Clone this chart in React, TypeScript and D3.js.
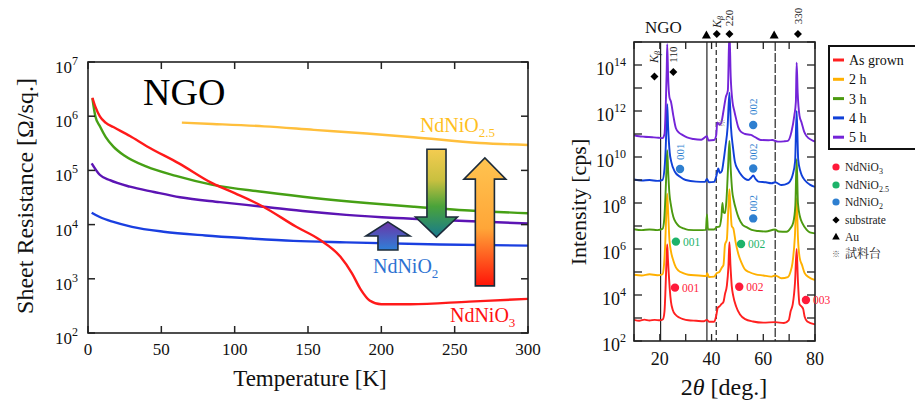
import React from 'react';
import * as d3 from 'd3';

// ---------- Left panel: sheet resistance vs temperature ----------
// [T (K), R (Ohm/sq)]
const RT_ASGROWN: [number, number][] = [[3,2.19e6],[5,1.5e6],[8.2,9.8e5],[12,7.6e5],[17.3,6.3e5],[28.6,4.3e5],[40,2.8e5],[62,1.35e5],[85,5.75e4],[100,3.8e4],[119.5,2.14e4],[142,9.1e3],[158,5.25e3],[172,2.57e3],[180,1.26e3],[186,631],[192,398],[200,339],[220,339],[260,380],[300,427]];
const RT_2H: [number, number][] = [[64,7.6e5],[85,7.2e5],[120,6.5e5],[154,5.6e5],[190,4.8e5],[222,4.1e5],[267,3.2e5],[300,2.95e5]];
const RT_3H: [number, number][] = [[3,2.14e6],[5,1.0e6],[8.2,6.46e5],[12,4.17e5],[17.3,2.75e5],[25,1.86e5],[40,1.17e5],[60,7.9e4],[85,5.4e4],[120,4.0e4],[154,3.1e4],[190,2.5e4],[222,2.14e4],[260,1.82e4],[300,1.62e4]];
const RT_4H: [number, number][] = [[2.5,1.66e4],[8,1.38e4],[17.3,1.12e4],[30,9.1e3],[51.4,7.4e3],[80,6.3e3],[108,5.6e3],[140,5.0e3],[176,4.7e3],[240,4.3e3],[300,4.1e3]];
const RT_5H: [number, number][] = [[2.5,1.35e5],[8,8.3e4],[15,6.6e4],[28.6,5.0e4],[45,4.0e4],[62.7,3.2e4],[90,2.6e4],[119.5,2.14e4],[150,1.74e4],[176,1.51e4],[210,1.32e4],[244.5,1.2e4],[300,1.05e4]];

const T_TICKS = [0, 50, 100, 150, 200, 250, 300];
const R_TICK_EXP = [2, 3, 4, 5, 6, 7];

// ---------- Right panel: XRD ----------
// [2theta (deg), log10 intensity (cps)]
const XRD_ASGROWN: [number, number][] = [[10,2.92],[12,2.88],[14,2.93],[16,2.89],[18,2.92],[20,2.9],[21.2,2.95],[21.8,3.3],[22.2,4.3],[22.6,5.6],[22.85,6.2],[23.1,5.6],[23.4,5.0],[23.8,4.3],[24.3,3.7],[25,3.35],[26,3.15],[27.5,3.02],[29,2.95],[31,2.9],[34,2.88],[37,2.86],[38.2,2.92],[39,2.84],[41,2.84],[41.8,3.1],[42.4,3.45],[43,3.5],[43.8,3.6],[44.6,3.7],[45.2,4.05],[45.9,4.4],[46.5,5.2],[46.9,6.3],[47.3,5.3],[47.8,4.4],[48.4,3.95],[49.5,3.5],[51,3.15],[53,2.95],[56,2.85],[60,2.8],[64.6,2.82],[68,2.78],[69.8,2.9],[70.6,3.3],[71.4,3.6],[72.3,4.6],[72.9,6.0],[73.4,4.6],[74,3.6],[74.8,3.5],[75.4,3.4],[76,3.05],[77,2.85],[80,2.72]];
const XRD_2H: [number, number][] = [[10,4.88],[13,4.85],[16,4.9],[19,4.86],[21,4.9],[21.6,5.3],[22.1,6.3],[22.5,7.6],[22.85,8.4],[23.2,7.6],[23.7,6.4],[24.3,5.9],[25.2,5.5],[26.2,5.2],[27.2,5.06],[29,4.95],[31,4.88],[35,4.85],[38,4.82],[38.3,4.95],[39,4.78],[41,4.8],[42,4.95],[43,5.0],[44,5.2],[44.6,5.3],[45.2,6.2],[45.9,6.4],[46.5,7.8],[46.9,8.6],[47.3,7.8],[47.8,7.0],[48.4,6.9],[49.3,6.3],[50.3,5.8],[51.6,5.4],[53,5.1],[54.5,5.0],[57,4.9],[60,4.85],[63,4.8],[64.6,4.85],[67,4.73],[69.5,4.78],[70.5,5.0],[71.3,5.4],[72.2,6.5],[72.9,8.2],[73.4,6.5],[74.1,5.6],[75,5.3],[76,4.95],[77.5,4.78],[80,4.65]];
const XRD_3H: [number, number][] = [[10,6.86],[13,6.82],[16,6.85],[19,6.82],[21,6.87],[21.7,7.3],[22.2,8.4],[22.6,9.6],[22.85,10.3],[23.2,9.4],[23.7,8.4],[24.3,7.9],[25.2,7.4],[26.2,7.15],[27.3,7.0],[29,6.9],[31,6.83],[35,6.82],[37.8,6.83],[38.2,7.5],[38.6,6.85],[41,6.85],[42,6.95],[43,6.97],[43.8,7.4],[44.2,8.0],[44.6,7.6],[45.2,7.56],[45.8,8.2],[46.4,9.6],[46.9,10.7],[47.4,9.5],[48,8.5],[48.6,8.1],[49.5,7.7],[50.5,7.35],[52,7.05],[53.5,6.95],[55.5,6.83],[58,6.78],[61,6.76],[64.5,6.85],[66,6.76],[69,6.75],[70.5,6.9],[71.6,7.15],[72.4,7.9],[72.9,9.9],[73.4,8.0],[74.2,7.4],[75.2,7.1],[76.8,6.83],[78,6.72],[80,6.68]];
const XRD_4H: [number, number][] = [[10,9.02],[13,8.98],[16,9.0],[19,8.96],[21,9.0],[21.8,9.5],[22.3,10.5],[22.65,11.7],[22.85,12.3],[23.2,11.3],[23.8,10.2],[24.4,9.8],[25.8,9.36],[27.8,9.14],[30,9.0],[34,8.93],[37.5,8.92],[38.2,9.05],[39,8.9],[41,8.92],[41.8,9.15],[42.6,9.5],[43.2,9.3],[44,9.4],[44.6,9.8],[45.3,10.4],[46.2,11.3],[46.9,12.8],[47.5,11.3],[48.3,10.4],[49,9.8],[50.2,9.45],[51.6,9.2],[53,9.05],[54.2,9.0],[55.3,9.1],[56.1,9.2],[57,9.05],[58.1,8.93],[61,8.9],[63.2,8.86],[64.6,8.9],[67.1,8.78],[69.5,8.85],[70.3,8.93],[71.3,9.2],[72.3,9.8],[72.9,12.0],[73.5,9.9],[74.3,9.4],[74.9,9.2],[76,9.0],[78,8.8],[80,8.7]];
const XRD_5H: [number, number][] = [[10,10.95],[12,10.9],[14,10.88],[17,10.86],[19.5,10.84],[21,10.82],[21.8,11.0],[22.3,12.3],[22.65,13.8],[22.85,14.9],[23.2,13.5],[23.7,12.6],[24.3,12.4],[25.2,11.8],[26.2,11.25],[27.5,11.05],[28.7,10.96],[30.5,10.85],[33,10.78],[36,10.75],[38.2,10.9],[38.8,10.72],[41,10.74],[41.8,10.95],[42.2,11.5],[43.2,11.4],[44,11.6],[44.6,12.0],[45.5,12.6],[46.3,12.9],[46.9,15.5],[47.4,13.5],[48.1,12.4],[48.8,12.0],[49.4,11.7],[50.3,11.3],[51.3,11.1],[53,11.0],[55.2,10.96],[57,10.85],[59,10.74],[62,10.73],[63.5,10.74],[65.7,10.67],[68,10.68],[69.5,10.7],[70.9,11.1],[72,11.8],[72.6,12.4],[72.9,14.1],[73.3,12.8],[74,11.8],[74.8,11.5],[75.8,11.1],[76.8,10.9],[78.5,10.75],[80,10.67]];

const TTH_TICKS = [10, 20, 30, 40, 50, 60, 70, 80];
const TTH_LABELS = [20, 40, 60, 80];
const I_TICK_EXP = [2,3,4,5,6,7,8,9,10,11,12,13,14,15];
const I_LABEL_EXP = [2,4,6,8,10,12,14];

const LEGEND_LABELS = ['As grown', '2 h', '3 h', '4 h', '5 h'];

const SERIF = '"Liberation Serif", "Times New Roman", "Noto Serif CJK JP", "Noto Sans CJK JP", serif';

const C = {
  red: '#ff1a1a',
  orange: '#ffbf3c',
  green: '#46a015',
  blue: '#1a3fe0',
  purple: '#5c14b4',
};
const XC = {
  red: '#ff2020',
  orange: '#ffb000',
  green: '#4c9a10',
  blue: '#1040d8',
  purple: '#7424d8',
};

export default function App() {
  // left scales
  const xL = d3.scaleLinear().domain([0, 300]).range([88, 528]);
  const yL = d3.scaleLog().domain([1e2, 1e7]).range([333, 62]);
  const lineL = d3.line<[number, number]>().x(d => xL(d[0])).y(d => yL(d[1])).curve(d3.curveMonotoneX);

  // right scales
  const xR = d3.scaleLinear().domain([10, 80]).range([634, 815]);
  const yR = d3.scaleLog().domain([1e2, 1e15]).range([341, 42]);
  const lineR = d3.line<[number, number]>().x(d => xR(d[0])).y(d => yR(Math.pow(10, d[1]))).curve(d3.curveMonotoneX);

  const leftSeries = [
    { d: RT_2H, c: C.orange },
    { d: RT_3H, c: C.green },
    { d: RT_5H, c: C.purple },
    { d: RT_4H, c: C.blue },
    { d: RT_ASGROWN, c: C.red },
  ];
  const rightSeries = [
    { d: XRD_ASGROWN, c: XC.red },
    { d: XRD_2H, c: XC.orange },
    { d: XRD_3H, c: XC.green },
    { d: XRD_4H, c: XC.blue },
    { d: XRD_5H, c: XC.purple },
  ];
  const legendColors = [XC.red, XC.orange, XC.green, XC.blue, XC.purple];

  // arrows in data coords: center T, shaft half width (K), head half width (K), tail R, head base R, tip R
  const arrows = [
    { id: 'ga1', cx: 204.5, sh: 6.8, hh: 15, tail: 3.39e3, base: 6.17e3, tip: 1.12e4, stops: [['0%', '#6b34a6'], ['100%', '#2f80d8']] },
    { id: 'ga2', cx: 237.6, sh: 6.5, hh: 14.3, tail: 2.45e5, base: 1.38e4, tip: 5.9e3, stops: [['0%', '#f4cc50'], ['35%', '#c9c040'], ['65%', '#4aa33a'], ['100%', '#177a8e']] },
    { id: 'ga3', cx: 270.6, sh: 6.5, hh: 14.3, tail: 741, base: 6.9e4, tip: 1.7e5, stops: [['0%', '#ffc450'], ['55%', '#ffa638'], ['100%', '#ff1408']] },
  ];
  const arrowPath = (a: typeof arrows[0]) => {
    const pts: [number, number][] = [
      [a.cx - a.sh, a.tail], [a.cx - a.sh, a.base], [a.cx - a.hh, a.base], [a.cx, a.tip],
      [a.cx + a.hh, a.base], [a.cx + a.sh, a.base], [a.cx + a.sh, a.tail],
    ];
    return 'M' + pts.map(p => `${xL(p[0])},${yL(p[1])}`).join('L') + 'Z';
  };

  const diamond = (x: number, y: number, r = 4) => `M${x},${y - r}L${x + r},${y}L${x},${y + r}L${x - r},${y}Z`;
  const tri = (x: number, y: number, r = 4.5) => `M${x},${y - r}L${x + r},${y + r * 0.8}L${x - r},${y + r * 0.8}Z`;

  const lTop = 62, lBot = 333, lLeft = 88, lRight = 528;
  const rTop = 42, rBot = 341, rLeft = 634, rRight = 815;

  const rot = (x: number, y: number) => `rotate(-90 ${x} ${y})`;

  return (
    <svg width={915} height={410} style={{ position: 'fixed', left: 0, top: 0, background: '#fff' }} fontFamily={SERIF}>
      <defs>
        {arrows.map(a => (
          <linearGradient key={a.id} id={a.id} x1="0" y1="0" x2="0" y2="1">
            {a.stops.map(s => <stop key={s[0]} offset={s[0]} stopColor={s[1]} />)}
          </linearGradient>
        ))}
        <clipPath id="clipL"><rect x={lLeft} y={lTop} width={lRight - lLeft} height={lBot - lTop} /></clipPath>
        <clipPath id="clipR"><rect x={rLeft} y={rTop} width={rRight - rLeft} height={rBot - rTop} /></clipPath>
      </defs>
      <rect x={0} y={0} width={915} height={410} fill="#fff" />

      {/* ================= LEFT PANEL ================= */}
      <g clipPath="url(#clipL)">
        {leftSeries.map((s, i) => (
          <path key={i} d={lineL(s.d) || ''} fill="none" stroke={s.c} strokeWidth={2.4} strokeLinejoin="round" />
        ))}
      </g>
      {arrows.map(a => (
        <path key={a.id} d={arrowPath(a)} fill={`url(#${a.id})`} stroke="#1c2b3a" strokeWidth={1.6} strokeLinejoin="miter" />
      ))}
      <rect x={lLeft} y={lTop} width={lRight - lLeft} height={lBot - lTop} fill="none" stroke="#222" strokeWidth={1.6} />
      {T_TICKS.map(t => (
        <g key={t}>
          <line x1={xL(t)} x2={xL(t)} y1={lBot} y2={lBot - 7} stroke="#222" strokeWidth={1.5} />
          <line x1={xL(t)} x2={xL(t)} y1={lTop} y2={lTop + 7} stroke="#222" strokeWidth={1.5} />
          <text x={xL(t)} y={355} textAnchor="middle" fontSize={17} fill="#111">{t}</text>
        </g>
      ))}
      {R_TICK_EXP.map(e => (
        <g key={e}>
          <line x1={lLeft} x2={lLeft + 7} y1={yL(Math.pow(10, e))} y2={yL(Math.pow(10, e))} stroke="#222" strokeWidth={1.5} />
          <line x1={lRight} x2={lRight - 7} y1={yL(Math.pow(10, e))} y2={yL(Math.pow(10, e))} stroke="#222" strokeWidth={1.5} />
          <text x={78} y={yL(Math.pow(10, e)) + 11} textAnchor="end" fontSize={17} fill="#111">10<tspan dy={-8} fontSize={12}>{e}</tspan></text>
        </g>
      ))}
      <text x={310} y={386} textAnchor="middle" fontSize={23} fill="#111">Temperature [K]</text>
      <text x={33} y={196} transform={rot(33, 196)} textAnchor="middle" fontSize={24} fill="#111">Sheet Resistance [Ω/sq.]</text>
      <text x={xL(37.5)} y={yL(1.62e6)} fontSize={38} fill="#000">NGO</text>
      <text x={xL(226.3)} y={yL(5.1e5)} fontSize={20} fill="#ffbf1f">NdNiO<tspan dy={5} fontSize={13}>2.5</tspan></text>
      <text x={xL(194.3)} y={yL(1.29e3)} fontSize={20} fill="#2d72d2">NdNiO<tspan dy={5} fontSize={13}>2</tspan></text>
      <text x={xL(246.8)} y={yL(158)} fontSize={20} fill="#ff1010">NdNiO<tspan dy={5} fontSize={13}>3</tspan></text>

      {/* ================= RIGHT PANEL ================= */}
      {/* reference lines */}
      <line x1={xR(20.3)} x2={xR(20.3)} y1={rTop} y2={rBot} stroke="#111" strokeWidth={1.1} />
      <line x1={xR(38.2)} x2={xR(38.2)} y1={rTop} y2={rBot} stroke="#111" strokeWidth={1.1} />
      <line x1={xR(41.8)} x2={xR(41.8)} y1={rTop} y2={rBot} stroke="#111" strokeWidth={1.1} strokeDasharray="5,3" />
      <line x1={xR(64.6)} x2={xR(64.6)} y1={rTop} y2={rBot} stroke="#111" strokeWidth={1.1} strokeDasharray="9,2" />
      <g clipPath="url(#clipR)">
        {rightSeries.map((s, i) => (
          <path key={i} d={lineR(s.d) || ''} fill="none" stroke={s.c} strokeWidth={1.9} strokeLinejoin="round" />
        ))}
      </g>
      <rect x={rLeft} y={rTop} width={rRight - rLeft} height={rBot - rTop} fill="none" stroke="#222" strokeWidth={1.6} />
      {TTH_TICKS.map(t => (
        <g key={t}>
          <line x1={xR(t)} x2={xR(t)} y1={rBot} y2={rBot - 7} stroke="#222" strokeWidth={1.3} />
          <line x1={xR(t)} x2={xR(t)} y1={rTop} y2={rTop + 7} stroke="#222" strokeWidth={1.3} />
        </g>
      ))}
      {TTH_LABELS.map(t => (
        <text key={t} x={xR(t)} y={365} textAnchor="middle" fontSize={18} fill="#111">{t}</text>
      ))}
      {I_TICK_EXP.map(e => (
        <g key={e}>
          <line x1={rLeft} x2={rLeft + 8} y1={yR(Math.pow(10, e))} y2={yR(Math.pow(10, e))} stroke="#222" strokeWidth={1.3} />
          <line x1={rRight} x2={rRight - 8} y1={yR(Math.pow(10, e))} y2={yR(Math.pow(10, e))} stroke="#222" strokeWidth={1.3} />
        </g>
      ))}
      {I_LABEL_EXP.map(e => (
        <text key={e} x={626} y={yR(Math.pow(10, e)) + 10} textAnchor="end" fontSize={18} fill="#111">10<tspan dy={-9} fontSize={12}>{e}</tspan></text>
      ))}
      <text x={724} y={395} textAnchor="middle" fontSize={24} fill="#111">2<tspan fontStyle="italic">θ</tspan> [deg.]</text>
      <text x={586} y={202} transform={rot(586, 202)} textAnchor="middle" fontSize={22} fill="#111">Intensity [cps]</text>

      {/* top annotations */}
      <text x={645} y={33} fontSize={17} fill="#111">NGO</text>
      <path d={tri(xR(38.0), 35)} fill="#000" />
      <path d={tri(xR(64.2), 35)} fill="#000" />
      <path d={diamond(xR(42.0), 34)} fill="#000" />
      <path d={diamond(xR(46.9), 34)} fill="#000" />
      <path d={diamond(xR(73.4), 34)} fill="#000" />
      <text x={xR(42.0)} y={22} transform={rot(xR(42.0), 22)} textAnchor="middle" dy={4} fontSize={12} fill="#222"><tspan fontStyle="italic">K</tspan><tspan fontStyle="italic" fontSize={8} dy={2}>β</tspan></text>
      <text x={xR(46.9)} y={18} transform={rot(xR(46.9), 18)} textAnchor="middle" dy={4} fontSize={11} fill="#222">220</text>
      <text x={xR(73.4)} y={16} transform={rot(xR(73.4), 16)} textAnchor="middle" dy={4} fontSize={11} fill="#222">330</text>

      {/* in-plot annotations */}
      <path d={diamond(xR(17.9), yR(Math.pow(10, 13.5)))} fill="#000" />
      <path d={diamond(xR(25.2), yR(Math.pow(10, 13.7)))} fill="#000" />
      <text x={xR(17.9)} y={yR(Math.pow(10, 14.35))} transform={rot(xR(17.9), yR(Math.pow(10, 14.35)))} textAnchor="middle" dy={4} fontSize={12} fill="#222"><tspan fontStyle="italic">K</tspan><tspan fontStyle="italic" fontSize={8} dy={2}>β</tspan></text>
      <text x={xR(25.2)} y={yR(Math.pow(10, 14.45))} transform={rot(xR(25.2), yR(Math.pow(10, 14.45)))} textAnchor="middle" dy={4} fontSize={11} fill="#222">110</text>
      <text x={xR(43.9)} y={yR(Math.pow(10, 11.5))} textAnchor="middle" dy={3} fontSize={8} fill="#777">※</text>

      {[
        { t: 56.1, ci: 11.39, li: 12.19 },
        { t: 27.8, ci: 9.48, li: 10.23 },
        { t: 56.1, ci: 9.5, li: 10.23 },
        { t: 56.1, ci: 7.33, li: 7.99 },
      ].map((a, i) => (
        <g key={i}>
          <circle cx={xR(a.t)} cy={yR(Math.pow(10, a.ci))} r={4.2} fill="#2e7fd0" />
          <text x={xR(a.t)} y={yR(Math.pow(10, a.li))} transform={rot(xR(a.t), yR(Math.pow(10, a.li)))} textAnchor="middle" dy={4} fontSize={11} fill="#2e7fd0">{i === 1 ? '001' : '002'}</text>
        </g>
      ))}
      {[
        { t: 26.2, l: 6.32, c: '#1db36a', s: '001' },
        { t: 51.4, l: 6.22, c: '#1db36a', s: '002' },
        { t: 25.85, l: 4.32, c: '#ff1a3a', s: '001' },
        { t: 50.7, l: 4.36, c: '#ff1a3a', s: '002' },
        { t: 76.5, l: 3.78, c: '#ff1a3a', s: '003' },
      ].map((a, i) => (
        <g key={i}>
          <circle cx={xR(a.t)} cy={yR(Math.pow(10, a.l))} r={4.2} fill={a.c} />
          <text x={xR(a.t) + 7} y={yR(Math.pow(10, a.l)) + 4} fontSize={11.5} fill={a.c}>{a.s}</text>
        </g>
      ))}

      {/* legend */}
      <rect x={829} y={46} width={100} height={103} fill="#fff" stroke="#111" strokeWidth={2} />
      {LEGEND_LABELS.map((lab, i) => (
        <g key={lab}>
          <line x1={833} x2={844} y1={60 + i * 19.3} y2={60 + i * 19.3} stroke={legendColors[i]} strokeWidth={3} />
          <text x={849} y={60 + i * 19.3 + 5} fontSize={14} fill="#111">{lab}</text>
        </g>
      ))}
      <circle cx={836} cy={167} r={3.6} fill="#ff1a3a" />
      <text x={845} y={171} fontSize={11.5} fill="#222">NdNiO<tspan dy={3} fontSize={8}>3</tspan></text>
      <circle cx={836} cy={185} r={3.6} fill="#1db36a" />
      <text x={845} y={189} fontSize={11.5} fill="#222">NdNiO<tspan dy={3} fontSize={8}>2.5</tspan></text>
      <circle cx={836} cy={202} r={3.6} fill="#2e7fd0" />
      <text x={845} y={206} fontSize={11.5} fill="#222">NdNiO<tspan dy={3} fontSize={8}>2</tspan></text>
      <path d={diamond(836, 220, 3.6)} fill="#000" />
      <text x={845} y={224} fontSize={11.5} fill="#222">substrate</text>
      <path d={tri(836, 236.5, 3.8)} fill="#000" />
      <text x={845} y={241} fontSize={11.5} fill="#222">Au</text>
      <text x={836} y={257} textAnchor="middle" fontSize={8} fill="#555">※</text>
      <text x={845} y={258} fontSize={12} fill="#222">試料台</text>
    </svg>
  );
}
